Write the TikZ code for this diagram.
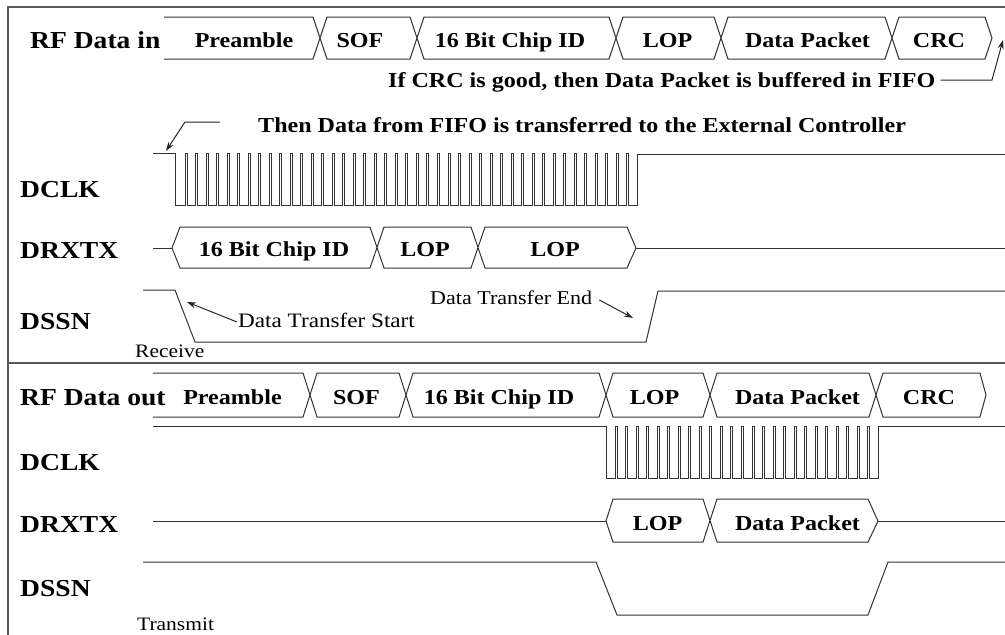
\documentclass[tikz,border=0pt]{standalone}
\usepackage{fontspec}
\setmainfont{Liberation Serif}[FakeStretch=1.13]
\usetikzlibrary{arrows.meta}
\begin{document}
\begin{tikzpicture}[x=1pt,y=-1pt,
  sig/.style={line width=1pt, draw=black!80, line join=miter},
  frm/.style={line width=1.3pt, draw=black!65},
  lblA/.style={font=\fontsize{24.4}{28}\selectfont\bfseries, anchor=base west, inner sep=0pt},
  blk/.style={font=\fontsize{21.3}{25}\selectfont\bfseries, anchor=base, inner sep=0pt},
  ann/.style={font=\fontsize{21.3}{25}\selectfont\bfseries, anchor=base west, inner sep=0pt},
  sml/.style={font=\fontsize{19}{22}\selectfont, anchor=base west, inner sep=0pt},
  note/.style={font=\fontsize{19.5}{22}\selectfont, anchor=base west, inner sep=0pt},
  arr/.style={line width=1pt, draw=black!85, -{Stealth[length=9pt,width=6pt]}}]
\useasboundingbox (0,0) rectangle (1005,635);
\fill[white] (0,0) rectangle (1005,635);

% frame
\draw[frm] (8,635) -- (8,7) -- (1005,7);
\draw[frm] (8,363) -- (1005,363);

% ---------- Receive section ----------
\node[lblA] (rfin) at (30,48) {RF Data in};
\node[lblA] (dclk1) at (20,197) {DCLK};
\node[lblA] (drxtx1) at (20,258) {DRXTX};
\node[lblA] (dssn1) at (20,329) {DSSN};
\node[sml] (recv) at (135,357.5) {Receive};

% RF data in bus
\draw[sig] (164,17) -- (313,17) -- (327,59) -- (410,59) -- (424,17) -- (609,17) -- (623,59) -- (714,59) -- (728,17) -- (885,17) -- (899,59) -- (985,59) -- (992,38) -- (985,17) -- (899,17) -- (885,59) -- (728,59) -- (714,17) -- (623,17) -- (609,59) -- (424,59) -- (410,17) -- (327,17) -- (313,59) -- (164,59);
\node[blk] (pre1) at (244,47.5) {Preamble};
\node[blk] (sof1) at (360,47.5) {SOF};
\node[blk] (cid1) at (510,47.5) {16 Bit Chip ID};
\node[blk] (lop1) at (667.5,47.5) {LOP};
\node[blk] (dp1) at (807.5,47.5) {Data Packet};
\node[blk] (crc1) at (939,47.5) {CRC};

% annotations
\node[ann] (crcnote) at (388,87) {If CRC is good, then Data Packet is buffered in FIFO};
\coordinate (crctip) at (1003,40);
\draw[arr] ([xshift=5pt]crcnote.east |- 0,80) -- (992,80) -- (crctip);
\node[ann] (fifonote) at (258,132) {Then Data from FIFO is transferred to the External Controller};
\coordinate (fifotip) at (166,151);
\draw[arr] ([xshift=-38pt]fifonote.west |- 0,122) -- (185,122) -- (fifotip);

% DCLK receive
\draw[sig] (153,153) -- (175,153) -- (175,205)
  \foreach \i in {0,...,42}{ -- ({185+\i*10.52},205) -- ++(0,-52) -- ++(2,0) -- ++(0,52) }
  -- (637,205) -- (637,154) -- (1005,154);

% DRXTX receive
\draw[sig] (153,248) -- (172,248);
\draw[sig] (172,248) -- (180,227) -- (370,227) -- (384,268) -- (471,268) -- (485,227) -- (627,227) -- (636,248) -- (627,268) -- (485,268) -- (471,227) -- (384,227) -- (370,268) -- (180,268) -- cycle;
\draw[sig] (636,248) -- (1005,248);
\node[blk] (cid2) at (274,256.5) {16 Bit Chip ID};
\node[blk] (lop2) at (425,256.5) {LOP};
\node[blk] (lop3) at (555,256.5) {LOP};

% DSSN receive
\draw[sig] (143,290) -- (175,290) -- (195,342) -- (646,342) -- (658,291) -- (1005,291);
\node[note, font=\fontsize{20.5}{23}\selectfont] (dts) at (238,327) {Data Transfer Start};
\coordinate (dtstip) at (187,302);
\draw[arr] ([xshift=-1pt]dts.west |- 0,322) -- (dtstip);
\node[note] (dte) at (430,304) {Data Transfer End};
\coordinate (dtetip) at (633,318);
\draw[arr] ([xshift=7pt]dte.east |- 0,300) -- (dtetip);

% ---------- Transmit section ----------
\node[lblA] (rfout) at (20,405) {RF Data out};
\node[lblA] (dclk2) at (20,470) {DCLK};
\node[lblA] (drxtx2) at (20,532) {DRXTX};
\node[lblA] (dssn2) at (20,596) {DSSN};
\node[sml] (tx) at (137,630) {Transmit};

% RF data out bus
\draw[sig] (153,373) -- (303,373) -- (317,417) -- (399,417) -- (413,373) -- (599,373) -- (613,417) -- (703,417) -- (717,373) -- (869,373) -- (883,417) -- (980,417) -- (986,395) -- (980,373) -- (883,373) -- (869,417) -- (717,417) -- (703,373) -- (613,373) -- (599,417) -- (413,417) -- (399,373) -- (317,373) -- (303,417) -- (153,417);
\node[blk] (pre2) at (232.5,404) {Preamble};
\node[blk] (sof2) at (356.5,404) {SOF};
\node[blk] (cid3) at (499,404) {16 Bit Chip ID};
\node[blk] (lop4) at (654.5,404) {LOP};
\node[blk] (dp2) at (797.5,404) {Data Packet};
\node[blk] (crc2) at (929,404) {CRC};

% DCLK transmit
\draw[sig] (153,426) -- (606,426) -- (606,478)
  \foreach \i in {0,...,24}{ -- ({615+\i*10.54},478) -- ++(0,-52) -- ++(2,0) -- ++(0,52) }
  -- (878,478) -- (878,426) -- (1005,426);

% DRXTX transmit
\draw[sig] (153,521) -- (606,521);
\draw[sig] (606,521) -- (613,499) -- (703,499) -- (717,542) -- (868,542) -- (878,521) -- (868,499) -- (717,499) -- (703,542) -- (613,542) -- cycle;
\draw[sig] (878,521) -- (1005,521);
\node[blk] (lop5) at (657.5,530) {LOP};
\node[blk] (dp3) at (797.5,530) {Data Packet};

% DSSN transmit
\draw[sig] (143,562) -- (596,562) -- (617,615) -- (868,615) -- (888,562) -- (1005,562);
\end{tikzpicture}
\end{document}
